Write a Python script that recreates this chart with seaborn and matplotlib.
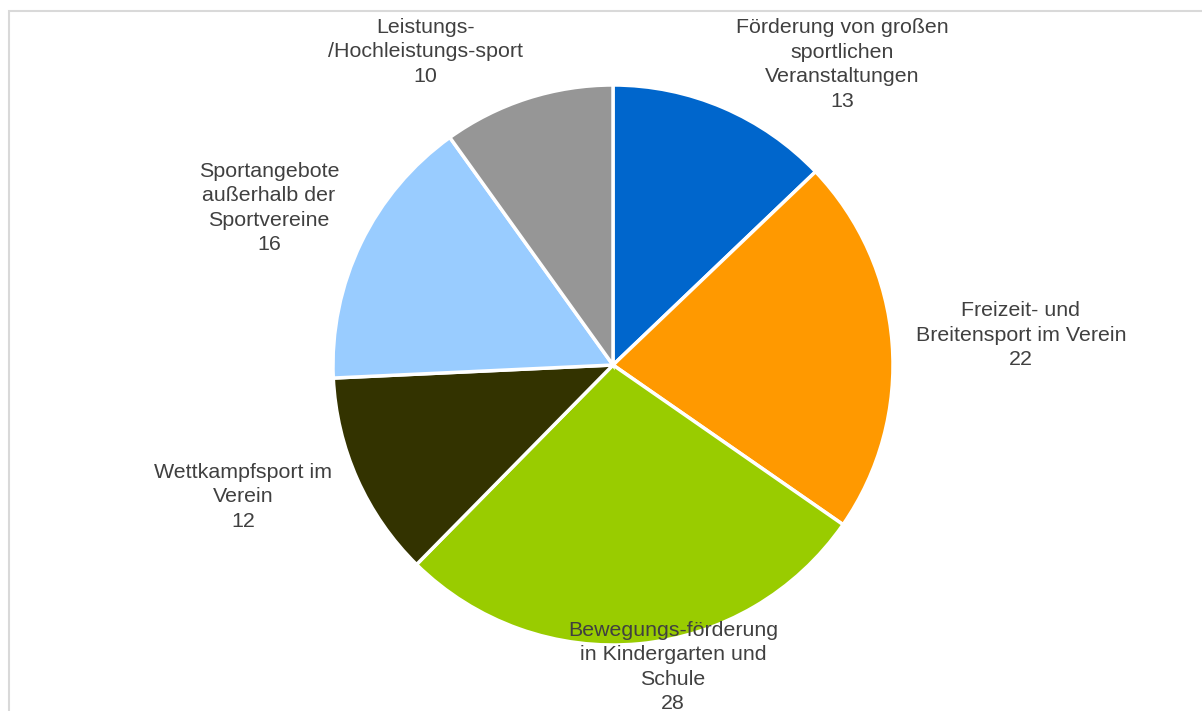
import matplotlib
matplotlib.use("Agg")
import matplotlib.pyplot as plt
import seaborn as sns
from matplotlib.patches import Rectangle

categories = [
    "Förderung von großen\nsportlichen\nVeranstaltungen",
    "Freizeit- und\nBreitensport im Verein",
    "Bewegungs-förderung\nin Kindergarten und\nSchule",
    "Wettkampfsport im\nVerein",
    "Sportangebote\naußerhalb der\nSportvereine",
    "Leistungs-\n/Hochleistungs-sport",
]
values = [13, 22, 28, 12, 16, 10]
colors = ["#0066CC", "#FF9900", "#99CC00", "#333300", "#99CCFF", "#969696"]

# label placement (axes data units, layout only)
label_pos = [(0.82, 1.073), (1.457, 0.107), (0.214, -1.079),
             (-1.321, -0.471), (-1.229, 0.561), (-0.671, 1.118)]

sns.set_theme(style="white")
plt.rcParams['font.family'] = ['Liberation Sans', 'DejaVu Sans']

fig = plt.figure(figsize=(12.02, 7.11), dpi=100)
fig.patches.append(Rectangle((9/1202, -0.1), 1.2, (700/711) + 0.1, transform=fig.transFigure,
                             fill=False, edgecolor="#d9d9d9", linewidth=1.5))

cx, cy, r = 613, 365, 280
ax = fig.add_axes([(cx - r)/1202, (711 - cy - r)/711, 2*r/1202, 2*r/711])
wedges, _ = ax.pie(values, colors=colors, startangle=90, counterclock=False,
                   wedgeprops=dict(edgecolor="white", linewidth=2.5), radius=1)
ax.set_xlim(-1, 1)
ax.set_ylim(-1, 1)
ax.set_aspect("equal")
ax.axis("off")

for cat, v, (x, y) in zip(categories, values, label_pos):
    ax.text(x, y, f"{cat}\n{v}", ha="center", va="center", multialignment="center",
            fontsize=15.4, color="#404040", linespacing=1.37, clip_on=False)

fig.savefig("out.png", dpi=100)
